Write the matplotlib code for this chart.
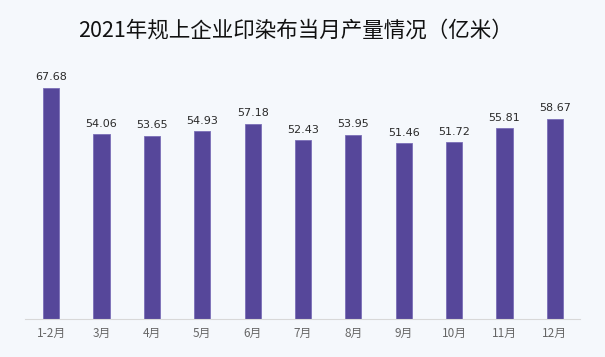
import matplotlib
matplotlib.use("Agg")
import matplotlib.pyplot as plt

categories = ["1-2月", "3月", "4月", "5月", "6月", "7月", "8月", "9月", "10月", "11月", "12月"]
values = [67.68, 54.06, 53.65, 54.93, 57.18, 52.43, 53.95, 51.46, 51.72, 55.81, 58.67]
title = "2021年规上企业印染布当月产量情况（亿米）"

plt.rcParams['font.family'] = ['Noto Sans CJK SC', 'DejaVu Sans']
bg = "#f5f8fc"
fig = plt.figure(figsize=(6.05, 3.57), dpi=100, facecolor=bg)
ax = fig.add_axes([25/605, 1-319/357, 555/605, (319-80)/357])
ax.set_facecolor(bg)
x = list(range(len(categories)))
ax.bar(x, values, width=0.32, color="#56479a", edgecolor="#7a6fb8", linewidth=0.6)
for xi, v in zip(x, values):
    ax.text(xi, v + 1.6, f"{v:.2f}", ha="center", va="bottom", fontsize=8,
            color="#2a2a2a", family=['DejaVu Sans'])
ax.set_xlim(-0.52, 10.5)
ax.set_ylim(0, 70)
ax.set_xticks(x)
ax.set_xticklabels(categories, fontsize=8.5, color="#666666")
ax.tick_params(axis="x", length=0, pad=6)
ax.set_yticks([])
for s in ["top", "right", "left"]:
    ax.spines[s].set_visible(False)
ax.spines["bottom"].set_color("#d8d8d8")
ax.spines["bottom"].set_linewidth(0.8)
fig.text(0.489, 1-31/357, title, ha="center", va="center", fontsize=15.5,
         color="#111111")
fig.savefig("out.png", dpi=100, facecolor=bg)
